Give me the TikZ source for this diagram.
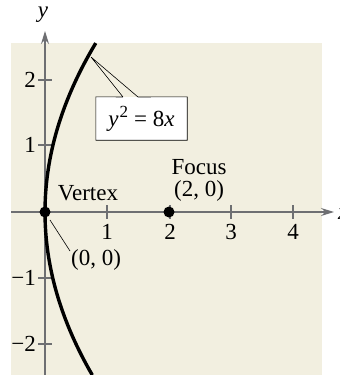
\documentclass[tikz,border=0pt]{standalone}
\usepackage{fontspec}
\setmainfont{Liberation Serif}
\usetikzlibrary{arrows.meta}
\definecolor{bgc}{RGB}{242,239,224}
\definecolor{axc}{RGB}{110,111,114}
\begin{document}
\begin{tikzpicture}[x=1pt,y=-1pt,
  font=\fontsize{23}{27}\selectfont,
  axis/.style={draw=axc, line width=1.4pt, -{Stealth[length=13pt,width=8pt]}},
  tickmark/.style={draw=axc, line width=1.2pt},
  lbl/.style={inner sep=0pt},
  dot/.style={circle, fill=black, minimum size=11pt, inner sep=0pt},
  thin/.style={draw=black, line width=0.6pt}]
\useasboundingbox (0,0) rectangle (340,375);
\fill[bgc] (11,43) rectangle (322,375);
% axes
\coordinate (xs) at (11,212);
\coordinate (xe) at (334,212);
\coordinate (ys) at (45,375);
\coordinate (ye) at (45,31);
\draw[axis] (xs) -- (xe);
\draw[axis] (ys) -- (ye);
\node[lbl, font=\fontsize{23}{27}\selectfont\itshape] (ylab) at (43,15) {y};
\node[lbl, font=\fontsize{23}{27}\selectfont\itshape, anchor=west] (xlab) at (338,214) {x};
% ticks
\foreach \p/\t in {107/1,170/2,231/3,293/4}{
  \draw[tickmark] (\p,205) -- (\p,219);
}
\foreach \p/\t in {107/1,231/3,293/4}{
  \node[lbl, anchor=base] (xt\t) at (\p,239) {\t};
}
\node[lbl, anchor=base] (xt2) at (170,239) {2};
\foreach \p/\t/\n in {80/2/a,145/1/b,278/−1/c,344/−2/d}{
  \draw[tickmark] (38,\p) -- (52,\p);
  \node[lbl, anchor=east] (yt\n) at (36,\p) {\t};
}
% parabola
\draw[line width=3.4pt] plot[domain=-2.47:2.56, samples=80, smooth] ({45+62*\x*\x/8},{212-66*\x});
% points
\node[dot] (V) at (45,212) {};
\node[dot] (F) at (169,212) {};
% labels
\node[lbl, anchor=base] (vt) at (88,200) {Vertex};
\node[lbl, anchor=base] (vc) at (96,265) {(0, 0)};
\coordinate (l1) at (50,220);
\coordinate (l2) at (70,251);
\draw[thin] (l1) -- (l2);
\node[lbl, anchor=base] (ft) at (199,174) {Focus};
\node[lbl, anchor=base] (fc) at (199,196) {(2, 0)};
% callout
\node[fill=white, minimum width=91pt, minimum height=43pt, inner sep=0pt] (eq) at (141.5,118.5)
  {\textit{y}\hspace{1pt}\raisebox{9pt}{\fontsize{17}{17}\selectfont 2}\hspace{6pt}=\hspace{6pt}8\textit{x}};
\coordinate (tip) at (91,57);
\coordinate (f1) at (123,97);
\coordinate (f2) at (138,97);
\draw[thin, line join=miter] (f1) -- (eq.north west) -- (eq.south west) -- (eq.south east) -- (eq.north east) -- (f2) -- (tip) -- (f1);
\end{tikzpicture}
\end{document}
